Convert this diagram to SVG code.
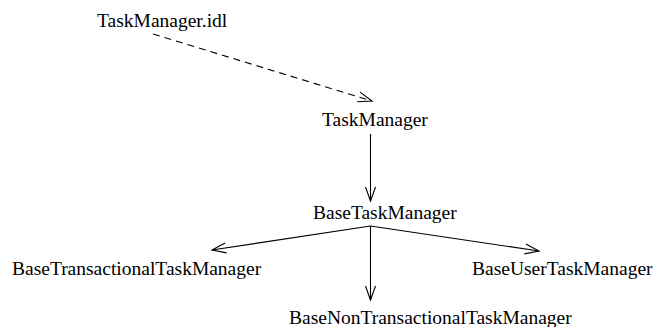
<svg xmlns="http://www.w3.org/2000/svg" width="658" height="327" viewBox="0 0 658 327">
  <style>
    .label { font-family: "Liberation Serif", "Times New Roman", serif; font-size: 19.5px; fill: #000; }
    .edge { stroke: #000; stroke-width: 1.1; fill: none; }
    .dashed { stroke-dasharray: 7 5; }
  </style>
  <defs>
    <!-- open V arrowhead shared by all connectors -->
    <marker id="open-arrow" markerUnits="userSpaceOnUse" markerWidth="18" markerHeight="14" viewBox="-15 -7 18 14" refX="0" refY="0" orient="auto">
      <path d="M -14 -5 L 0 0 L -14 5" fill="none" stroke="#000" stroke-width="1.1"/>
    </marker>
  </defs>
  <rect width="658" height="327" fill="#fff"/>

  <g id="connectors">
    <line class="edge dashed" x1="153" y1="34" x2="372" y2="101" marker-end="url(#open-arrow)"/>
    <line class="edge" x1="370.5" y1="134" x2="370.5" y2="201" marker-end="url(#open-arrow)"/>
    <line class="edge" x1="370.5" y1="226" x2="212" y2="250" marker-end="url(#open-arrow)"/>
    <line class="edge" x1="370.5" y1="226" x2="539" y2="251" marker-end="url(#open-arrow)"/>
    <line class="edge" x1="370.5" y1="226" x2="370.5" y2="300" marker-end="url(#open-arrow)"/>
  </g>

  <g id="TaskManager_idl">
    <text class="label" x="97" y="27">TaskManager.idl</text>
  </g>
  <g id="TaskManager">
    <text class="label" x="322" y="126">TaskManager</text>
  </g>
  <g id="BaseTaskManager">
    <text class="label" x="313" y="219">BaseTaskManager</text>
  </g>
  <g id="BaseTransactionalTaskManager">
    <text class="label" x="12" y="275">BaseTransactionalTaskManager</text>
  </g>
  <g id="BaseUserTaskManager">
    <text class="label" x="472" y="275">BaseUserTaskManager</text>
  </g>
  <g id="BaseNonTransactionalTaskManager">
    <text class="label" x="289" y="324">BaseNonTransactionalTaskManager</text>
  </g>
</svg>
